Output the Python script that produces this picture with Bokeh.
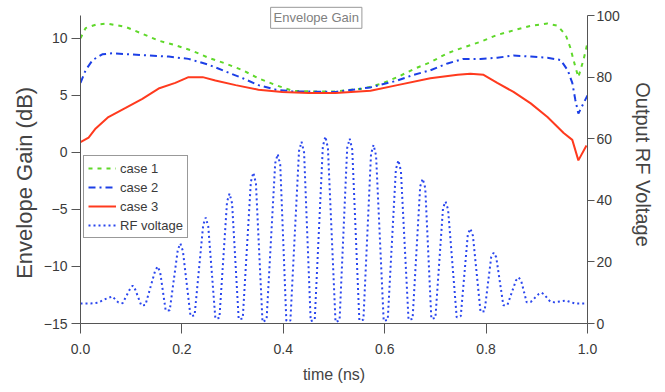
from bokeh.plotting import figure
from bokeh.models import Range1d, LinearAxis, FixedTicker, Label, Legend, LegendItem, PrintfTickFormatter
from bokeh.embed import file_html
from bokeh.resources import INLINE

# ---- data ----
t_case1 = [0.0, 0.01, 0.03, 0.053, 0.089, 0.122, 0.154, 0.187, 0.221, 0.252, 0.286, 0.32, 0.351,
           0.385, 0.418, 0.45, 0.503, 0.558, 0.592, 0.625, 0.657, 0.690, 0.724, 0.755, 0.789,
           0.822, 0.854, 0.888, 0.921, 0.941, 0.957, 0.966, 0.976, 0.982, 0.992, 1.0]
g_case1 = [10.0, 10.9, 11.2, 11.3, 11.0, 10.4, 9.8, 9.4, 8.9, 8.3, 7.8, 7.2, 6.5,
           5.9, 5.4, 5.35, 5.35, 5.6, 6.0, 6.6, 7.3, 7.9, 8.7, 9.2, 9.7,
           10.3, 10.7, 11.1, 11.3, 11.1, 10.3, 9.2, 7.5, 6.6, 8.1, 9.6]

t_case2 = [0.0, 0.01, 0.024, 0.043, 0.063, 0.095, 0.134, 0.174, 0.213, 0.252, 0.286, 0.32, 0.351,
           0.385, 0.418, 0.503, 0.572, 0.625, 0.657, 0.690, 0.724, 0.755, 0.789, 0.822, 0.854,
           0.888, 0.921, 0.947, 0.961, 0.970, 0.976, 0.982, 0.992, 1.0]
g_case2 = [6.1, 7.2, 8.1, 8.6, 8.7, 8.6, 8.5, 8.4, 8.2, 7.7, 7.1, 6.5, 5.9,
           5.5, 5.35, 5.3, 5.7, 6.3, 6.8, 7.2, 7.8, 8.2, 8.2, 8.3, 8.5,
           8.4, 8.3, 8.1, 7.2, 6.1, 4.6, 3.4, 4.3, 5.0]

t_case3 = [0.0, 0.016, 0.03, 0.055, 0.089, 0.122, 0.154, 0.187, 0.213, 0.241, 0.266, 0.306, 0.351,
           0.398, 0.45, 0.503, 0.572, 0.625, 0.69, 0.744, 0.769, 0.795, 0.822, 0.854, 0.888,
           0.921, 0.953, 0.970, 0.982, 0.998]
g_case3 = [0.9, 1.3, 2.1, 3.1, 3.9, 4.7, 5.6, 6.1, 6.6, 6.6, 6.3, 5.9, 5.5,
           5.3, 5.2, 5.2, 5.4, 5.9, 6.5, 6.8, 6.9, 6.8, 6.1, 5.3, 4.3,
           3.1, 1.7, 1.1, -0.7, 0.6]

rf_t = [0.000, 0.020, 0.035, 0.050, 0.063, 0.072,
        0.075, 0.083, 0.098, 0.103, 0.108,
        0.120, 0.128, 0.147, 0.152, 0.157,
        0.168, 0.176, 0.192, 0.197, 0.202,
        0.217, 0.225, 0.242, 0.247, 0.252,
        0.266, 0.274, 0.289, 0.294, 0.299,
        0.312, 0.320, 0.336, 0.341, 0.346,
        0.359, 0.367, 0.384, 0.389, 0.394,
        0.406, 0.414, 0.431, 0.436, 0.441,
        0.454, 0.462, 0.478, 0.483, 0.488,
        0.503, 0.511, 0.526, 0.531, 0.536,
        0.550, 0.558, 0.573, 0.578, 0.583,
        0.598, 0.606, 0.622, 0.627, 0.632,
        0.647, 0.655, 0.670, 0.675, 0.680,
        0.692, 0.700, 0.715, 0.720, 0.725,
        0.742, 0.750, 0.764, 0.769, 0.774,
        0.789, 0.797, 0.810, 0.815, 0.820,
        0.834, 0.842, 0.859, 0.864, 0.869,
        0.880, 0.888, 0.904, 0.909, 0.914,
        0.927, 0.935, 0.952, 0.957, 0.962,
        0.975, 1.000]
rf_v = [6.5, 6.5, 6.8, 8.0, 8.8, 7.2,
        6.8, 6.6, 11.3, 12.3, 11.0,
        5.8, 6.0, 17.0, 18.5, 16.8,
        4.2, 4.3, 24.0, 26.0, 23.5,
        2.4, 2.6, 32.0, 34.4, 31.5,
        1.6, 1.8, 39.5, 42.2, 39.0,
        1.4, 1.6, 46.0, 49.0, 45.5,
        0.5, 1.2, 52.0, 55.0, 51.5,
        0.8, 1.0, 56.0, 59.0, 55.5,
        0.8, 1.2, 57.5, 60.7, 57.0,
        0.5, 1.0, 57.0, 60.0, 56.5,
        1.0, 1.2, 55.0, 58.0, 54.5,
        0.8, 1.2, 50.0, 53.0, 49.5,
        1.2, 1.5, 44.5, 47.0, 44.0,
        1.5, 1.8, 37.5, 39.6, 37.0,
        2.0, 2.4, 29.0, 30.8, 28.5,
        3.8, 4.0, 21.5, 23.0, 21.5,
        5.9, 6.0, 14.0, 15.0, 14.0,
        6.9, 7.0, 9.6, 10.0, 9.5,
        7.0, 6.9, 7.3, 7.5, 7.2,
        6.5, 6.5]

x_ticks = [0.0, 0.2, 0.4, 0.6, 0.8, 1.0]
left_ticks = [-15, -10, -5, 0, 5, 10]
right_ticks = [0, 20, 40, 60, 80, 100]

FONT = "Liberation Sans"
AX_COL = "#555555"
TXT_COL = "#3a3a3a"

# frame extends a little above the axis tops so the boxed title fits inside it
p = figure(width=665, height=392, x_range=Range1d(0, 1), y_range=Range1d(-15, 12.88),
           output_backend="svg", toolbar_location=None,
           min_border_left=80, min_border_right=78, min_border_top=5, min_border_bottom=69)
p.extra_y_ranges = {"rf": Range1d(0, 103.25)}
p.xgrid.visible = False
p.ygrid.visible = False
p.outline_line_color = None
p.background_fill_color = "white"
p.border_fill_color = "white"

r1 = p.line(t_case1, g_case1, line_color="#5fd82a", line_width=2, line_dash="4 5")
r2 = p.line(t_case2, g_case2, line_color="#1c3fe6", line_width=2, line_dash="7 4 2 4")
r3 = p.line(t_case3, g_case3, line_color="#ff3a1e", line_width=2)
r4 = p.line(rf_t, rf_v, line_color="#2a46ee", line_width=2, line_dash="2 3", y_range_name="rf")

def style(ax, ticks, label, tick_out, standoff, label_standoff, label_size):
    ax.ticker = FixedTicker(ticks=ticks)
    ax.minor_tick_line_color = None
    ax.major_tick_in = 0
    ax.major_tick_out = tick_out
    ax.axis_line_color = AX_COL
    ax.major_tick_line_color = AX_COL
    ax.major_label_text_font = FONT
    ax.major_label_text_font_size = "14px"
    ax.major_label_text_color = TXT_COL
    ax.major_label_standoff = standoff
    ax.axis_label = label
    ax.axis_label_text_font = FONT
    ax.axis_label_text_font_size = label_size
    ax.axis_label_text_font_style = "normal"
    ax.axis_label_text_color = "#444444"
    ax.axis_label_standoff = label_standoff

style(p.xaxis[0], x_ticks, "time (ns)", 10, 10, 9, "16px")
p.xaxis[0].formatter = PrintfTickFormatter(format="%.1f")
# trailing no-break spaces push the visible title lower, as in the reference
style(p.yaxis[0], left_ticks, "Envelope Gain (dB)" + "\u00a0" * 6, 9, 4, 4, "22px")
p.yaxis[0].bounds = (-15, 12)

rax = LinearAxis(y_range_name="rf")
style(rax, right_ticks, "Output RF Voltage", 7, 2, 9, "20px")
rax.bounds = (0, 100)
p.add_layout(rax, "right")

legend = Legend(items=[LegendItem(label="case 1", renderers=[r1]),
                       LegendItem(label="case 2", renderers=[r2]),
                       LegendItem(label="case 3", renderers=[r3]),
                       LegendItem(label="RF voltage", renderers=[r4])],
                location=(3, 85), orientation="vertical")
legend.label_text_font = FONT
legend.label_text_font_size = "13px"
legend.label_text_color = TXT_COL
legend.border_line_color = "#333333"
legend.border_line_width = 1
legend.background_fill_alpha = 1
legend.glyph_width = 28
legend.glyph_height = 16
legend.label_height = 16
legend.label_standoff = 4
legend.spacing = 3
legend.padding = 4
legend.margin = 0
p.add_layout(legend, "center")

title = Label(x=0.465, y=11.8, text="Envelope Gain", text_align="center", text_baseline="middle",
              text_font=FONT, text_font_size="13px", text_color="#808080",
              border_line_color="#999999", border_line_width=1,
              background_fill_color="white", padding=3)
p.add_layout(title)

open("out.html", "w").write(file_html(p, INLINE))
